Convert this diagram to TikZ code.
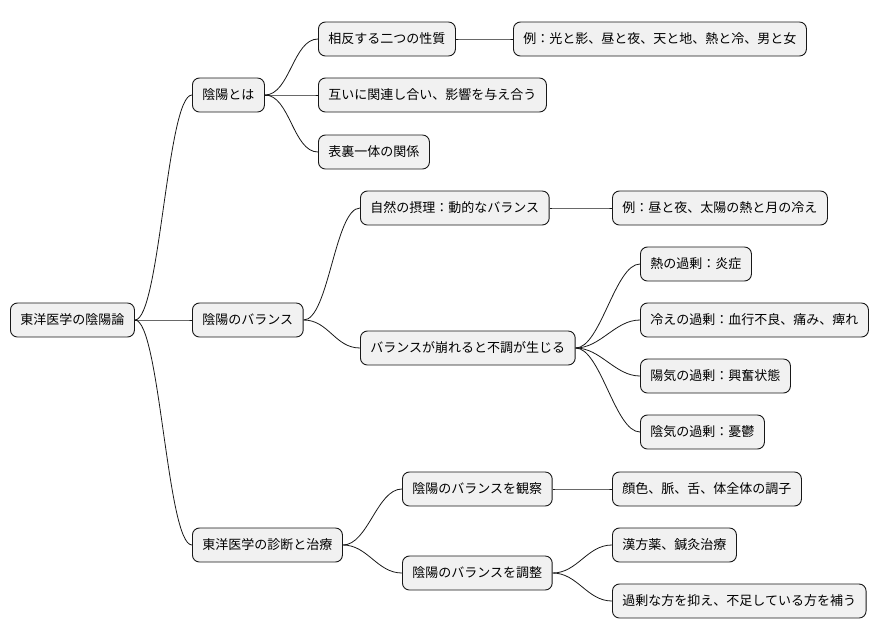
\documentclass[tikz,border=0pt]{standalone}
\usepackage{fontspec}
\setmainfont{Noto Sans CJK JP}
\usetikzlibrary{positioning}
\definecolor{boxfill}{HTML}{F1F1F1}
\definecolor{boxline}{HTML}{181818}
\tikzset{
  topic/.style={draw=boxline, fill=boxfill, rounded corners=7pt, line width=0.9pt,
    anchor=west, minimum height=34pt, inner xsep=10pt, inner ysep=0pt,
    font=\fontsize{13}{15}\selectfont},
  link/.style={draw=boxline, line width=0.8pt}
}
\newcommand{\branch}[2]{\draw[link] (#1.east) .. controls ([xshift=25pt]#1.east) and ([xshift=-25pt]#2.west) .. (#2.west);}

\begin{document}
\begin{tikzpicture}[x=1pt,y=-1pt]
\useasboundingbox (0,0) rectangle (894,640);

\node[topic] (root) at (10,320) {東洋医学の陰陽論};

\node[topic] (yy) at (192,95) {陰陽とは};
\node[topic] (yy1) at (318,39) {相反する二つの性質};
\node[topic] (yy1a) at (513,39) {例：光と影、昼と夜、天と地、熱と冷、男と女};
\node[topic] (yy2) at (318,95) {互いに関連し合い、影響を与え合う};
\node[topic] (yy3) at (318,152) {表裏一体の関係};

\node[topic] (bal) at (192,320) {陰陽のバランス};
\node[topic] (bal1) at (360,208) {自然の摂理：動的なバランス};
\node[topic] (bal1a) at (612,208) {例：昼と夜、太陽の熱と月の冷え};
\node[topic] (bal2) at (360,348) {バランスが崩れると不調が生じる};
\node[topic] (bal2a) at (640,264) {熱の過剰：炎症};
\node[topic] (bal2b) at (640,320) {冷えの過剰：血行不良、痛み、痺れ};
\node[topic] (bal2c) at (640,376) {陽気の過剰：興奮状態};
\node[topic] (bal2d) at (640,432) {陰気の過剰：憂鬱};

\node[topic] (dx) at (192,545) {東洋医学の診断と治療};
\node[topic] (dx1) at (402,489) {陰陽のバランスを観察};
\node[topic] (dx1a) at (612,489) {顔色、脈、舌、体全体の調子};
\node[topic] (dx2) at (402,573) {陰陽のバランスを調整};
\node[topic] (dx2a) at (612,545) {漢方薬、鍼灸治療};
\node[topic] (dx2b) at (612,601) {過剰な方を抑え、不足している方を補う};

% connectors
\foreach \p/\c in {root/yy,root/bal,root/dx,yy/yy1,yy/yy2,yy/yy3,yy1/yy1a,
  bal/bal1,bal/bal2,bal1/bal1a,bal2/bal2a,bal2/bal2b,bal2/bal2c,bal2/bal2d,
  dx/dx1,dx/dx2,dx1/dx1a,dx2/dx2a,dx2/dx2b}
  {\branch{\p}{\c}}
\end{tikzpicture}
\end{document}
